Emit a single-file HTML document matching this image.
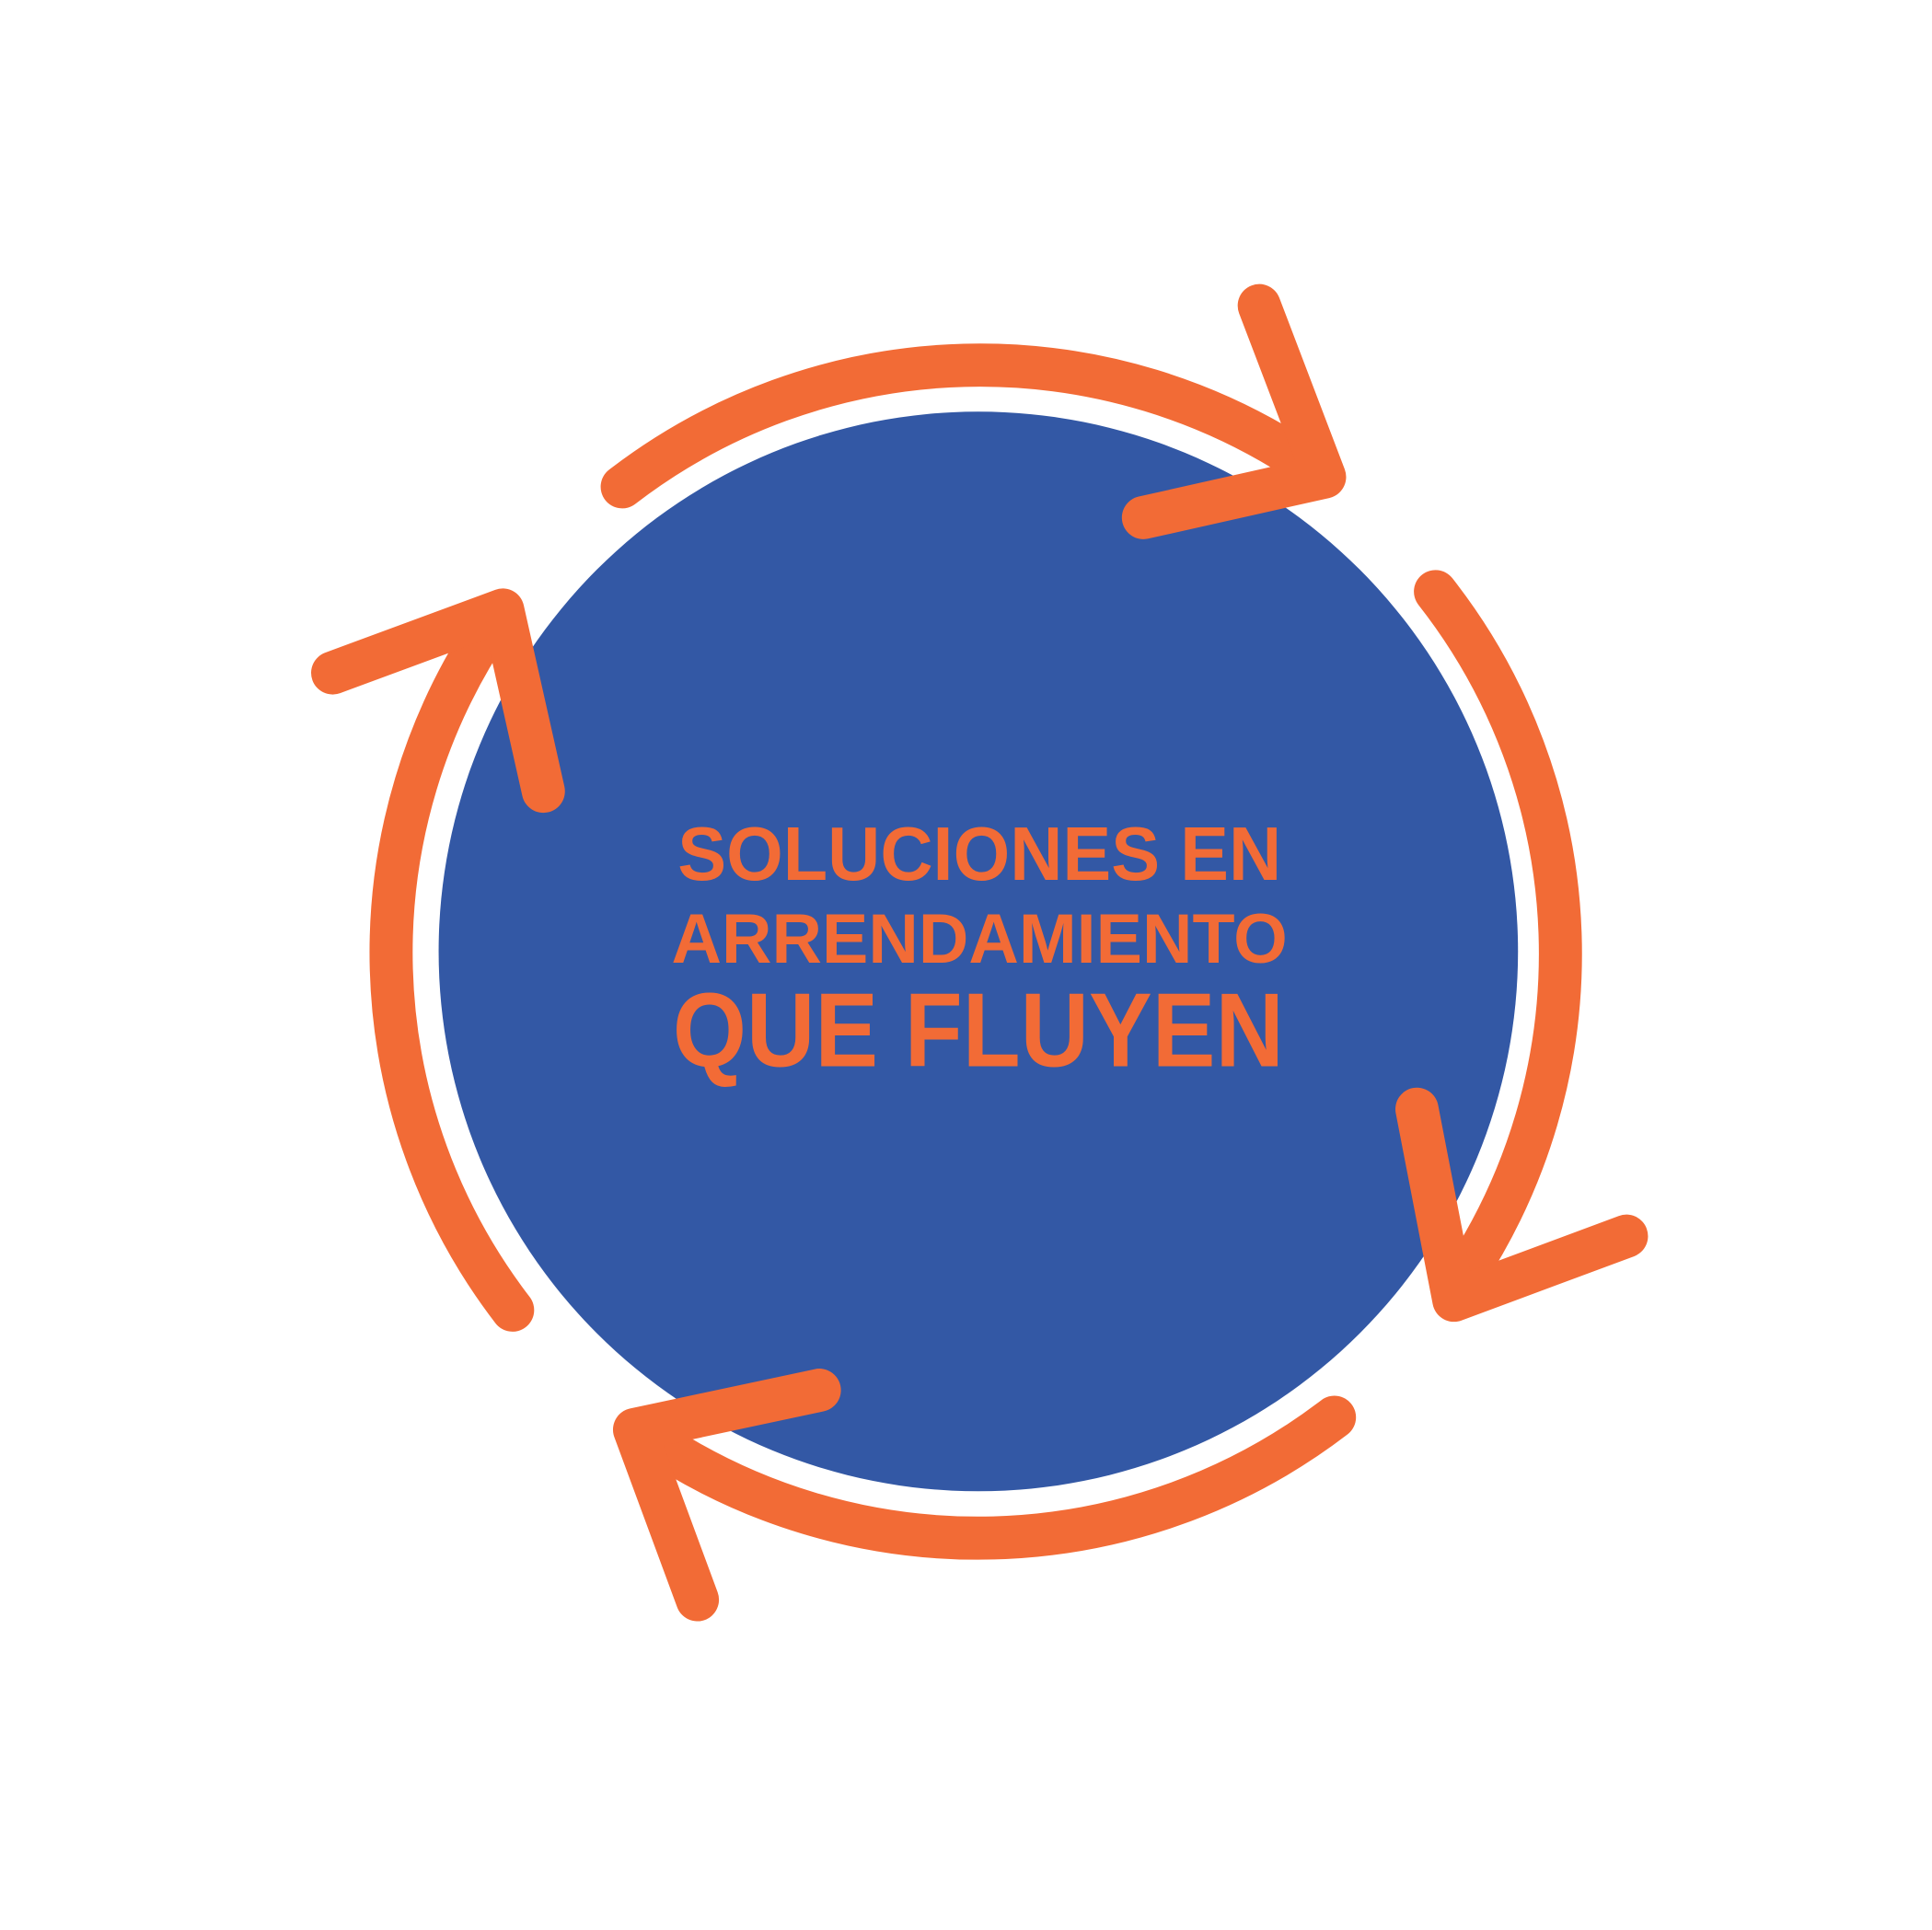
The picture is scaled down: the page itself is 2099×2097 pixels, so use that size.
<!DOCTYPE html>
<html><head><meta charset="utf-8"><style>
html,body{margin:0;padding:0;background:#fff;}
svg{display:block;}
</style></head><body>
<svg width="2099" height="2097" viewBox="0 0 1568 1566" preserveAspectRatio="none" xmlns="http://www.w3.org/2000/svg">
<rect width="1568" height="1566" fill="#fff"/>
<circle cx="794" cy="772" r="438" fill="#3358A5"/>
<g fill="none" stroke="#F26B36" stroke-width="35" stroke-linecap="round" stroke-linejoin="round">
<path d="M505 395 A476 476 0 0 1 1065 380"/>
<path d="M1022 248 L1075 387 L928 420"/>
<path d="M1165 480 A476 476 0 0 1 1185 1040"/>
<path d="M1150 900 L1180 1055 L1320 1003"/>
<path d="M1083 1150 A476 476 0 0 1 525 1165"/>
<path d="M665 1128 L515 1160 L566 1298"/>
<path d="M416 1063 A476 476 0 0 1 400 505"/>
<path d="M270 546 L408 495 L441 642"/>
</g>
<g fill="#F26B36" font-family="Liberation Sans, sans-serif" font-weight="bold">
<text x="550" y="714" font-size="62" textLength="490" lengthAdjust="spacingAndGlyphs">SOLUCIONES EN</text>
<text x="545" y="781" font-size="57" textLength="500" lengthAdjust="spacingAndGlyphs">ARRENDAMIENTO</text>
<text x="546" y="865" font-size="85" textLength="496" lengthAdjust="spacingAndGlyphs">QUE FLUYEN</text>
</g>
</svg>
</body></html>
